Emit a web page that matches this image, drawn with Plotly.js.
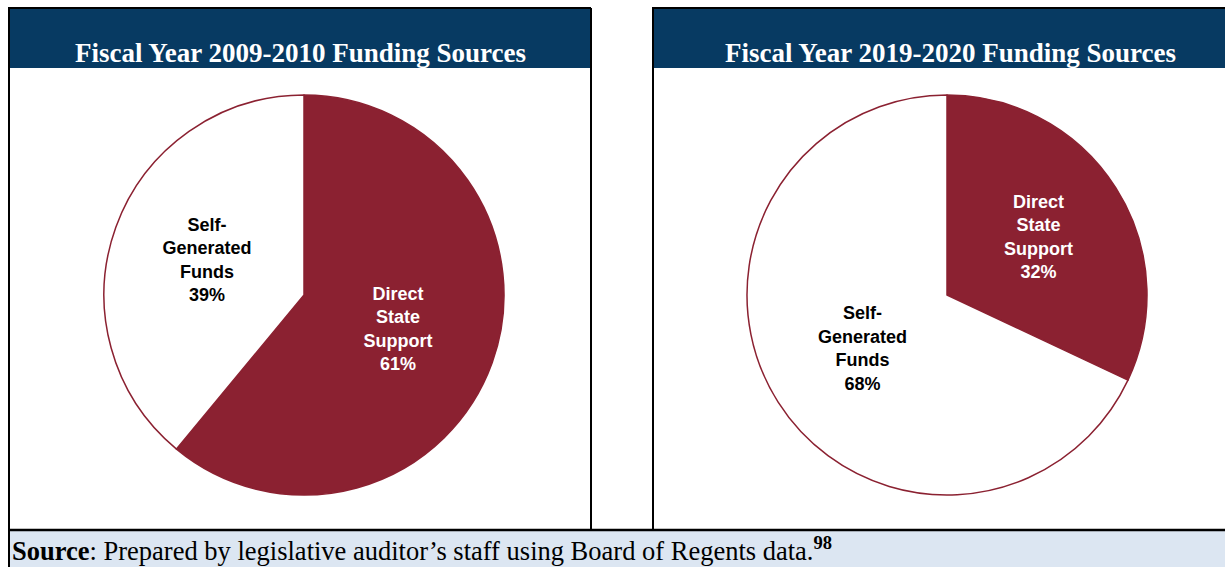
<!DOCTYPE html>
<html><head><meta charset="utf-8">
<script src="https://cdn.plot.ly/plotly-3.0.1.min.js"></script>
<style>body{margin:0;background:#fff}#chart{width:1225px;height:567px}</style>
</head><body><div id="chart"></div>
<script>
// Data
const categories = ["Direct<br>State<br>Support", "Self-<br>Generated<br>Funds"];
const values2009 = [61, 39];
const values2019 = [32, 68];
const panelTitles = ["Fiscal Year 2009-2010 Funding Sources", "Fiscal Year 2019-2020 Funding Sources"];
const sourceNote = "<b>Source</b>: Prepared by legislative auditor\u2019s staff using Board of Regents data.<sup><b>98</b></sup>";

const W = 1225, H = 567;
const X = px => px / W;
const Y = py => 1 - py / H;
const RED = "#8b2131", NAVY = "#073a62", FOOT = "#dce6f2";

function pieTrace(vals, cx, cy, r) {
  return {
    type: "pie",
    values: vals,
    labels: categories,
    sort: false,
    direction: "clockwise",
    rotation: 0,
    marker: {colors: [RED, "#ffffff"], line: {color: RED, width: 1.5}},
    texttemplate: "<b>%{label}<br>%{percent:.0%}</b>",
    textinfo: "label+percent",
    textposition: "inside",
    insidetextorientation: "horizontal",
    insidetextfont: {family: "Liberation Sans, Arial, sans-serif", size: 18, color: ["#ffffff", "#000000"]},
    hoverinfo: "skip",
    domain: {x: [X(cx - r), X(cx + r)], y: [Y(cy + r), Y(cy - r)]}
  };
}

const data = [pieTrace(values2009, 304, 295, 200), pieTrace(values2019, 947, 295, 200)];

const line = {color: "#000", width: 2};
const shapes = [
  {type: "rect", xref: "paper", yref: "paper", x0: X(8), x1: X(1226), y0: Y(567), y1: Y(530), fillcolor: FOOT, line: {width: 0}, layer: "below"},
  {type: "rect", xref: "paper", yref: "paper", x0: X(8), x1: X(591), y0: Y(68), y1: Y(8), fillcolor: NAVY, line: {width: 0}, layer: "below"},
  {type: "rect", xref: "paper", yref: "paper", x0: X(653), x1: X(1226), y0: Y(68), y1: Y(8), fillcolor: NAVY, line: {width: 0}, layer: "below"},
  {type: "line", xref: "paper", yref: "paper", x0: X(8), x1: X(591), y0: Y(8), y1: Y(8), line},
  {type: "line", xref: "paper", yref: "paper", x0: X(652), x1: X(1226), y0: Y(8), y1: Y(8), line},
  {type: "line", xref: "paper", yref: "paper", x0: X(9), x1: X(9), y0: Y(8), y1: Y(567), line},
  {type: "line", xref: "paper", yref: "paper", x0: X(591), x1: X(591), y0: Y(8), y1: Y(530), line},
  {type: "line", xref: "paper", yref: "paper", x0: X(653), x1: X(653), y0: Y(8), y1: Y(530), line},
  {type: "line", xref: "paper", yref: "paper", x0: X(8), x1: X(1226), y0: Y(530), y1: Y(530), line: {color: "#000", width: 2.5}}
];

const titleFont = {family: "Liberation Serif, Times New Roman, serif", size: 27, color: "#ffffff"};
const annotations = [
  {xref: "paper", yref: "paper", x: X(300), y: Y(53), text: "<b>" + panelTitles[0] + "</b>", showarrow: false, font: titleFont, xanchor: "center", yanchor: "middle"},
  {xref: "paper", yref: "paper", x: X(950), y: Y(53), text: "<b>" + panelTitles[1] + "</b>", showarrow: false, font: titleFont, xanchor: "center", yanchor: "middle"},
  {xref: "paper", yref: "paper", x: X(10), y: Y(549), text: sourceNote, showarrow: false, xanchor: "left", yanchor: "middle",
   font: {family: "Liberation Serif, Times New Roman, serif", size: 26.5, color: "#000"}}
];

Plotly.newPlot("chart", data, {
  width: W, height: H,
  margin: {l: 0, r: 0, t: 0, b: 0},
  showlegend: false,
  paper_bgcolor: "#ffffff",
  shapes, annotations
}, {staticPlot: true});
</script></body></html>
